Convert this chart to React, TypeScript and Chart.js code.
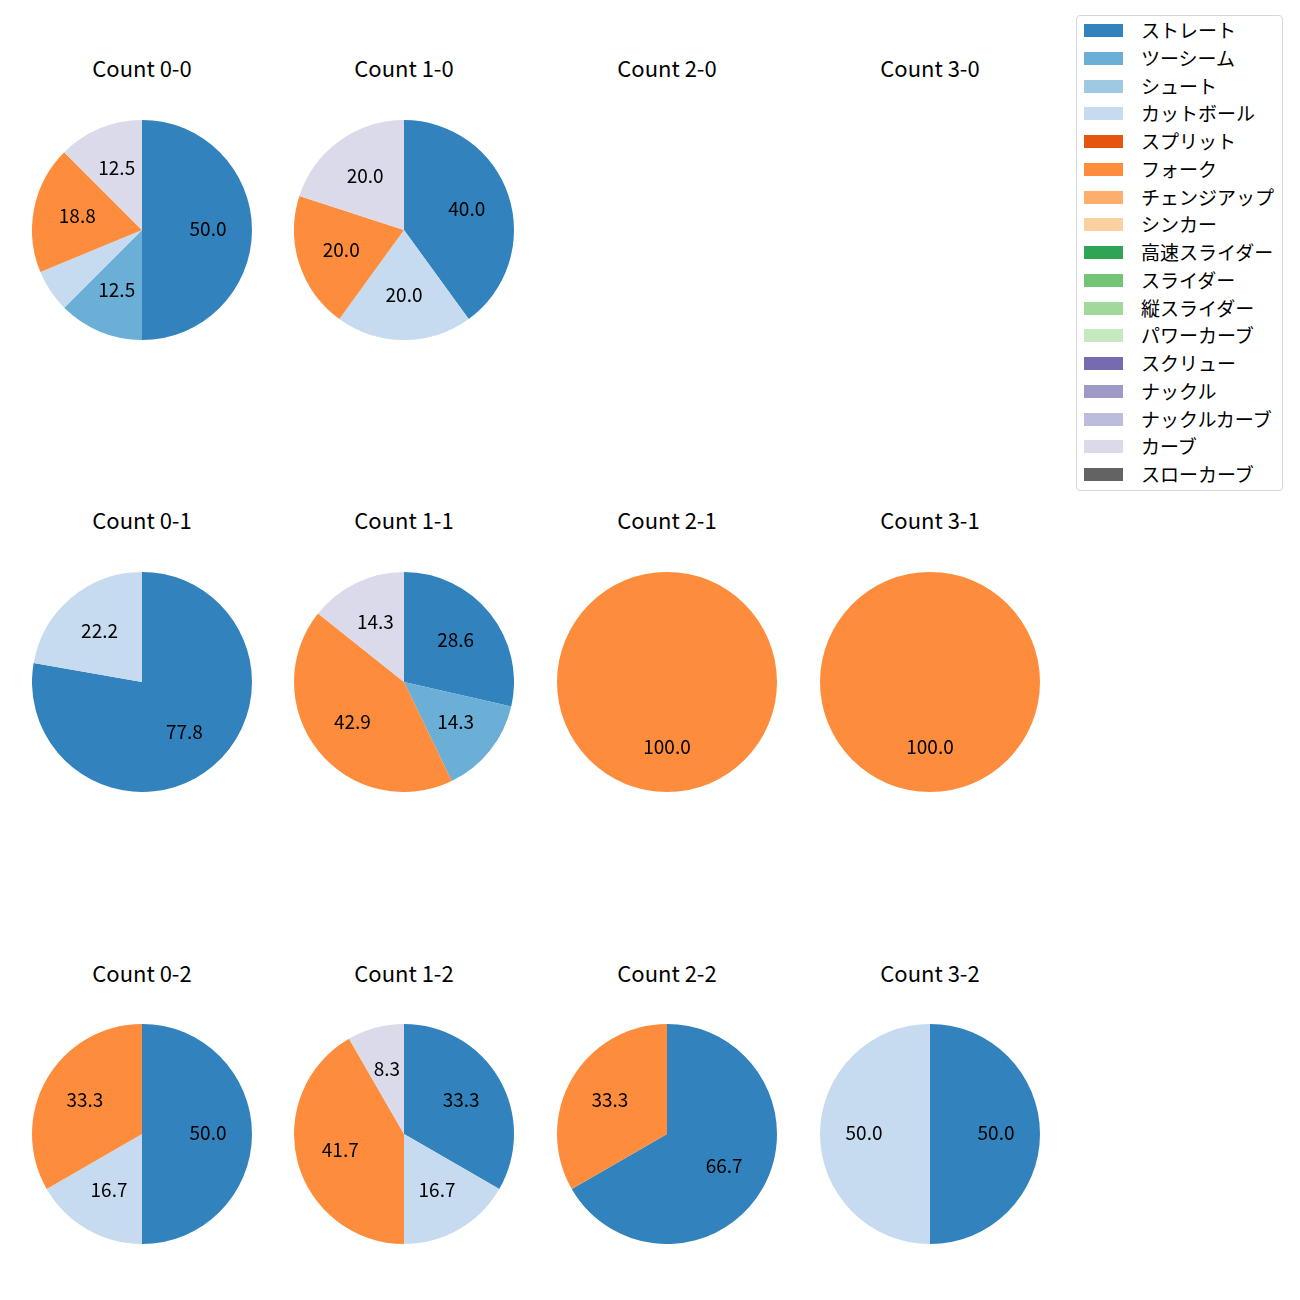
import React, { useEffect, useRef } from "react";
import { Chart, registerables } from "chart.js";

Chart.register(...registerables);

const pitchTypes = [
  "ストレート", "ツーシーム", "シュート", "カットボール", "スプリット", "フォーク",
  "チェンジアップ", "シンカー", "高速スライダー", "スライダー", "縦スライダー",
  "パワーカーブ", "スクリュー", "ナックル", "ナックルカーブ", "カーブ", "スローカーブ",
];
const pitchColors = [
  "#3182bd", "#6baed6", "#9ecae1", "#c6dbef", "#e6550d", "#fd8d3c",
  "#fdae6b", "#fdd0a2", "#31a354", "#74c476", "#a1d99b",
  "#c7e9c0", "#756bb1", "#9e9ac8", "#bcbddc", "#dadaeb", "#636363",
];

// pitch counts per ball-strike count, in pitchTypes order
const count00 = [8, 2, 0, 1, 0, 3, 0, 0, 0, 0, 0, 0, 0, 0, 0, 2, 0];
const count10 = [2, 0, 0, 1, 0, 1, 0, 0, 0, 0, 0, 0, 0, 0, 0, 1, 0];
const count20 = [0, 0, 0, 0, 0, 0, 0, 0, 0, 0, 0, 0, 0, 0, 0, 0, 0];
const count30 = [0, 0, 0, 0, 0, 0, 0, 0, 0, 0, 0, 0, 0, 0, 0, 0, 0];
const count01 = [7, 0, 0, 2, 0, 0, 0, 0, 0, 0, 0, 0, 0, 0, 0, 0, 0];
const count11 = [2, 1, 0, 0, 0, 3, 0, 0, 0, 0, 0, 0, 0, 0, 0, 1, 0];
const count21 = [0, 0, 0, 0, 0, 1, 0, 0, 0, 0, 0, 0, 0, 0, 0, 0, 0];
const count31 = [0, 0, 0, 0, 0, 1, 0, 0, 0, 0, 0, 0, 0, 0, 0, 0, 0];
const count02 = [3, 0, 0, 1, 0, 2, 0, 0, 0, 0, 0, 0, 0, 0, 0, 0, 0];
const count12 = [4, 0, 0, 2, 0, 5, 0, 0, 0, 0, 0, 0, 0, 0, 0, 1, 0];
const count22 = [2, 0, 0, 0, 0, 1, 0, 0, 0, 0, 0, 0, 0, 0, 0, 0, 0];
const count32 = [1, 0, 0, 1, 0, 0, 0, 0, 0, 0, 0, 0, 0, 0, 0, 0, 0];

const countTitles = [
  "Count 0-0", "Count 1-0", "Count 2-0", "Count 3-0",
  "Count 0-1", "Count 1-1", "Count 2-1", "Count 3-1",
  "Count 0-2", "Count 1-2", "Count 2-2", "Count 3-2",
];
const countValues = [
  count00, count10, count20, count30,
  count01, count11, count21, count31,
  count02, count12, count22, count32,
];

const FONT = '"Noto Sans CJK JP", "Noto Sans", sans-serif';
const COL_X = [142, 404, 667, 930];
const ROW_Y = [230, 682, 1134];
const TITLE_Y = [69, 521, 974];
const RADIUS = 110;
const LABEL_SIZE = 19;
const TITLE_SIZE = 22;
const LEGEND_SIZE = 19;
const MIN_LABEL_PCT = 7;

const pctLabelPlugin = {
  id: "pctLabels",
  afterDatasetsDraw(chart: any) {
    const ctx = chart.ctx;
    const meta = chart.getDatasetMeta(0);
    const data = chart.data.datasets[0].data as number[];
    const total = data.reduce((a: number, b: number) => a + b, 0);
    ctx.save();
    ctx.font = `${LABEL_SIZE}px ${FONT}`;
    ctx.fillStyle = "#000";
    ctx.textAlign = "center";
    ctx.textBaseline = "middle";
    meta.data.forEach((arc: any, i: number) => {
      const v = data[i];
      if (!v) return;
      const pct = (v / total) * 100;
      if (pct < MIN_LABEL_PCT) return;
      const p = arc.getProps(["x", "y", "startAngle", "endAngle", "outerRadius"], true);
      const mid = (p.startAngle + p.endAngle) / 2;
      const r = p.outerRadius * 0.6;
      ctx.fillText(pct.toFixed(1), p.x + Math.cos(mid) * r, p.y + Math.sin(mid) * r - 1);
    });
    ctx.restore();
  },
};

function Pie({ values, cx, cy }: { values: number[]; cx: number; cy: number }) {
  const ref = useRef<HTMLCanvasElement>(null);
  useEffect(() => {
    if (!ref.current) return;
    const chart = new Chart(ref.current, {
      type: "pie",
      data: {
        labels: pitchTypes,
        datasets: [
          {
            data: values,
            backgroundColor: pitchColors,
            borderWidth: 0,
            hoverOffset: 0,
            offset: 0,
          },
        ],
      },
      options: {
        animation: false,
        responsive: false,
        devicePixelRatio: 1,
        layout: { padding: 0 },
        plugins: { legend: { display: false }, tooltip: { enabled: false }, title: { display: false } },
        events: [],
      },
      plugins: [pctLabelPlugin],
    });
    return () => chart.destroy();
  }, [values]);
  const size = RADIUS * 2;
  return (
    <canvas
      ref={ref}
      width={size}
      height={size}
      style={{ position: "absolute", left: cx - RADIUS, top: cy - RADIUS, width: size, height: size }}
    />
  );
}

export default function App() {
  return (
    <div
      style={{
        position: "absolute",
        left: 0,
        top: 0,
        width: 1300,
        height: 1300,
        background: "#fff",
        fontFamily: FONT,
      }}
    >
      {countTitles.map((t, i) => {
        const col = i % 4;
        const row = Math.floor(i / 4);
        const vals = countValues[i];
        const total = vals.reduce((a, b) => a + b, 0);
        return (
          <React.Fragment key={t}>
            <div
              style={{
                position: "absolute",
                left: COL_X[col] - 100,
                width: 200,
                top: TITLE_Y[row] - 14,
                height: 24,
                lineHeight: "24px",
                textAlign: "center",
                fontSize: TITLE_SIZE,
                color: "#000",
                whiteSpace: "nowrap",
              }}
            >
              {t}
            </div>
            {total > 0 && <Pie values={vals} cx={COL_X[col]} cy={ROW_Y[row]} />}
          </React.Fragment>
        );
      })}
      <div
        style={{
          position: "absolute",
          left: 1076,
          top: 15,
          width: 205,
          height: 474,
          border: "1px solid #d6d6d6",
          borderRadius: 4,
          background: "rgba(255,255,255,0.8)",
        }}
      >
        {pitchTypes.map((p, i) => (
          <React.Fragment key={p}>
            <div
              style={{
                position: "absolute",
                left: 7,
                top: 8 + i * 27.75,
                width: 39,
                height: 13,
                background: pitchColors[i],
              }}
            />
            <div
              style={{
                position: "absolute",
                left: 64,
                top: 14 + i * 27.75 - 12,
                height: 24,
                lineHeight: "24px",
                fontSize: LEGEND_SIZE,
                color: "#000",
                whiteSpace: "nowrap",
              }}
            >
              {p}
            </div>
          </React.Fragment>
        ))}
      </div>
    </div>
  );
}
